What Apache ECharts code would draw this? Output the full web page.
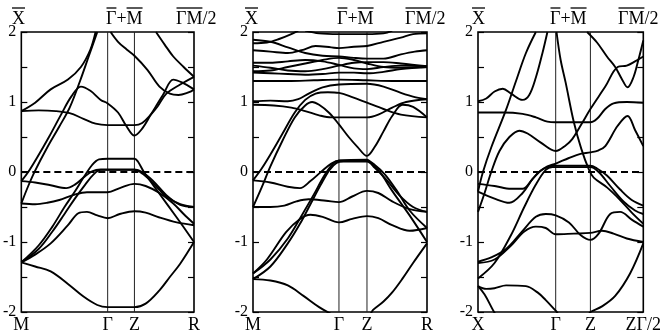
<!DOCTYPE html>
<html>
<head>
<meta charset="utf-8">
<script src="https://cdn.jsdelivr.net/npm/echarts@6/dist/echarts.min.js"></script>
<style>
  html, body { margin: 0; padding: 0; background: #fff; }
  #chart { width: 664px; height: 334px; }
</style>
</head>
<body>
<div id="chart"></div>
<script>
// high-symmetry points (fraction of path) and their names
const kp1 = [0, 0.5, 0.655, 1];
const kp2 = [0, 0.494, 0.655, 1];
const kp3 = [0, 0.47, 0.68, 1];
const kLab1 = ['M', 'Γ', 'Z', 'R'];
const kLab2 = ['M', 'Γ', 'Z', 'R'];
const kLab3 = ['X', 'Γ', 'Z', 'ZΓ/2'];

// panel 1 bands  [k, E(eV)]
const p1Bands = [
  [[0,-1.29],[0.08,-1.35],[0.17,-1.42],[0.27,-1.6],[0.36,-1.78],[0.44,-1.9],[0.5,-1.93],[0.655,-1.93],[0.72,-1.88],[0.8,-1.69],[0.86,-1.5],[0.92,-1.31],[1,-1.0]],
  [[0,-1.29],[0.08,-1.18],[0.17,-1.02],[0.27,-0.76],[0.33,-0.59],[0.38,-0.57],[0.44,-0.62],[0.5,-0.66],[0.57,-0.6],[0.655,-0.56],[0.72,-0.58],[0.8,-0.65],[0.9,-0.72],[1,-0.76]],
  [[0,-1.29],[0.1,-1.1],[0.18,-0.85],[0.25,-0.6],[0.31,-0.38],[0.37,-0.18],[0.42,-0.03],[0.46,0.03],[0.5,0.03],[0.655,0.03],[0.7,-0.02],[0.76,-0.15],[0.84,-0.35],[0.92,-0.46],[1,-0.5]],
  [[0,-1.29],[0.1,-1.05],[0.18,-0.78],[0.25,-0.5],[0.31,-0.28],[0.36,-0.08],[0.41,0.1],[0.45,0.18],[0.5,0.19],[0.655,0.19],[0.675,0.15],[0.71,0.0],[0.8,-0.31],[0.9,-0.65],[1,-1.0]],
  [[0,-0.45],[0.08,-0.46],[0.15,-0.44],[0.22,-0.4],[0.3,-0.33],[0.38,-0.29],[0.5,-0.29],[0.57,-0.23],[0.655,-0.17],[0.72,-0.2],[0.8,-0.3],[0.88,-0.45],[0.94,-0.6],[1,-0.74]],
  [[0,-0.13],[0.08,-0.15],[0.17,-0.19],[0.26,-0.23],[0.31,-0.18],[0.36,-0.08],[0.41,0.01],[0.46,0.035],[0.5,0.035],[0.655,0.035],[0.7,0.0],[0.76,-0.12],[0.84,-0.33],[0.92,-0.47],[1,-0.5]],
  [[0,-0.45],[0.04,-0.2],[0.08,0.02],[0.15,0.35],[0.22,0.65],[0.28,0.92],[0.34,1.3],[0.39,1.65],[0.44,2.0]],
  [[0,-0.13],[0.04,0.0],[0.09,0.2],[0.16,0.5],[0.23,0.82],[0.29,1.08],[0.345,1.22],[0.4,1.16],[0.46,1.03],[0.5,0.98],[0.56,0.85],[0.61,0.65],[0.655,0.52],[0.7,0.62],[0.75,0.82],[0.82,1.1],[0.88,1.32],[0.93,1.28],[1,1.18]],
  [[0,0.87],[0.1,0.88],[0.2,0.87],[0.28,0.84],[0.36,0.76],[0.43,0.69],[0.5,0.67],[0.655,0.67],[0.7,0.7],[0.75,0.82],[0.79,0.94],[0.84,1.12],[0.92,1.25],[1,1.36]],
  [[0,0.87],[0.08,0.99],[0.17,1.18],[0.27,1.32],[0.345,1.5],[0.4,1.75],[0.43,2.0]],
  [[0.517,2.0],[0.56,1.86],[0.61,1.75],[0.655,1.66],[0.73,1.46],[0.8,1.22],[0.86,1.12],[0.91,1.1],[0.96,1.13],[1,1.18]],
  [[0.78,2.0],[0.83,1.82],[0.88,1.65],[0.94,1.5],[1,1.36]]
];

// panel 2 bands
const p2Bands = [
  [[0,-1.53],[0.1,-1.55],[0.2,-1.62],[0.29,-1.77],[0.38,-1.93],[0.45,-2.03],[0.494,-2.08],[0.655,-2.08],[0.69,-1.97],[0.75,-1.85],[0.8,-1.72],[0.86,-1.52],[0.92,-1.3],[1,-1.02]],
  [[0,-1.45],[0.08,-1.25],[0.19,-0.86],[0.27,-0.67],[0.33,-0.61],[0.4,-0.64],[0.494,-0.72],[0.57,-0.67],[0.655,-0.63],[0.72,-0.66],[0.8,-0.76],[0.9,-0.84],[1,-0.8]],
  [[0,-1.45],[0.1,-1.25],[0.2,-0.95],[0.28,-0.62],[0.35,-0.32],[0.41,-0.05],[0.46,0.12],[0.494,0.165],[0.655,0.175],[0.69,0.1],[0.73,0.0],[0.8,-0.27],[0.9,-0.62],[1,-1.0]],
  [[0,-1.53],[0.1,-1.35],[0.2,-1.02],[0.27,-0.74],[0.33,-0.46],[0.39,-0.18],[0.44,0.03],[0.48,0.13],[0.52,0.15],[0.655,0.15],[0.7,0.06],[0.77,-0.12],[0.84,-0.33],[0.92,-0.5],[1,-0.57]],
  [[0,-0.5],[0.1,-0.5],[0.18,-0.48],[0.25,-0.42],[0.32,-0.39],[0.42,-0.41],[0.494,-0.43],[0.57,-0.35],[0.655,-0.27],[0.72,-0.3],[0.8,-0.42],[0.9,-0.53],[1,-0.57]],
  [[0,-0.12],[0.1,-0.15],[0.2,-0.21],[0.27,-0.23],[0.33,-0.13],[0.39,0.0],[0.45,0.12],[0.494,0.16],[0.655,0.16],[0.7,0.1],[0.76,-0.04],[0.83,-0.28],[0.9,-0.55],[1,-0.8]],
  [[0,-0.5],[0.05,-0.22],[0.1,0.08],[0.17,0.45],[0.24,0.78],[0.3,0.95],[0.34,1.0],[0.38,0.96],[0.44,0.84],[0.494,0.68],[0.55,0.5],[0.6,0.36],[0.655,0.23],[0.7,0.36],[0.75,0.58],[0.8,0.8],[0.86,0.96],[0.92,0.93],[1,0.78]],
  [[0,-0.12],[0.05,0.05],[0.1,0.25],[0.17,0.55],[0.24,0.85],[0.3,1.03],[0.36,1.12],[0.43,1.14],[0.494,1.13],[0.57,1.07],[0.655,0.99],[0.75,0.9],[0.85,0.82],[1,0.78]],
  [[0,1.01],[0.1,1.02],[0.2,1.01],[0.26,1.04],[0.32,1.12],[0.4,1.21],[0.494,1.25],[0.655,1.26],[0.75,1.22],[0.85,1.13],[0.93,1.07],[1,1.04]],
  [[0,0.96],[0.12,0.95],[0.22,0.92],[0.3,0.87],[0.38,0.81],[0.45,0.78],[0.494,0.78],[0.655,0.78],[0.72,0.82],[0.8,0.92],[0.88,1.0],[1,1.04]],
  [[0,1.3],[0.2,1.3],[0.35,1.31],[0.494,1.32],[0.655,1.31],[0.8,1.3],[1,1.3]],
  [[0,1.42],[0.1,1.41],[0.2,1.4],[0.3,1.39],[0.4,1.4],[0.494,1.42],[0.58,1.42],[0.655,1.41],[0.75,1.43],[0.85,1.47],[1,1.5]],
  [[0,1.44],[0.1,1.45],[0.2,1.5],[0.3,1.55],[0.4,1.6],[0.494,1.63],[0.58,1.6],[0.655,1.55],[0.75,1.5],[0.85,1.49],[1,1.5]],
  [[0,1.52],[0.1,1.49],[0.2,1.45],[0.3,1.44],[0.4,1.47],[0.494,1.52],[0.58,1.56],[0.655,1.57],[0.75,1.57],[0.85,1.55],[1,1.51]],
  [[0,1.56],[0.1,1.56],[0.2,1.58],[0.3,1.6],[0.4,1.58],[0.494,1.53],[0.58,1.48],[0.655,1.47],[0.75,1.5],[0.85,1.52],[1,1.51]],
  [[0,1.74],[0.1,1.72],[0.2,1.7],[0.28,1.74],[0.36,1.8],[0.45,1.78],[0.494,1.77],[0.58,1.79],[0.655,1.8],[0.75,1.86],[0.85,1.92],[0.92,1.97],[1,1.98]],
  [[0,1.89],[0.1,1.86],[0.2,1.78],[0.3,1.7],[0.4,1.66],[0.494,1.65],[0.58,1.63],[0.655,1.62],[0.75,1.62],[0.85,1.68],[0.93,1.72],[1,1.74]],
  [[0,1.84],[0.08,1.85],[0.15,1.9],[0.22,1.97],[0.26,2.02]],
  [[0.3,2.02],[0.38,1.98],[0.494,1.97],[0.655,1.97],[0.75,1.98],[0.8,2.02]]
];

// panel 3 bands
const p3Bands = [
  [[0,1.01],[0.05,1.05],[0.1,1.15],[0.15,1.19],[0.2,1.12],[0.27,1.03],[0.31,1.1],[0.35,1.35],[0.39,1.7],[0.42,2.0]],
  [[0,0.85],[0.15,0.85],[0.27,0.83],[0.35,0.78],[0.42,0.72],[0.47,0.71],[0.68,0.71],[0.72,0.76],[0.77,0.9],[0.82,0.98],[0.9,1.0],[1,0.99]],
  [[0,-0.57],[0.04,-0.3],[0.08,0.0],[0.13,0.3],[0.19,0.5],[0.25,0.59],[0.3,0.55],[0.38,0.42],[0.47,0.3],[0.53,0.38],[0.57,0.47],[0.63,0.7],[0.68,0.9],[0.77,1.22],[0.845,1.5],[0.9,1.52],[0.95,1.58],[1,1.65]],
  [[0.66,2.0],[0.72,1.85],[0.78,1.65],[0.83,1.5],[0.87,1.33],[0.905,1.21],[0.94,1.35],[0.97,1.6],[1,1.88]],
  [[0,-0.28],[0.1,-0.38],[0.19,-0.44],[0.27,-0.3],[0.33,-0.1],[0.37,0.0],[0.42,0.08],[0.47,0.12],[0.55,0.2],[0.62,0.26],[0.68,0.28],[0.73,0.31],[0.77,0.37],[0.845,0.66],[0.905,0.8],[0.95,0.6],[1,0.37]],
  [[0.475,2.0],[0.5,1.6],[0.53,1.28],[0.58,0.71],[0.625,0.33],[0.67,0.04],[0.7,-0.08],[0.78,-0.22],[0.86,-0.4],[0.93,-0.58],[1,-0.74]],
  [[0,-0.28],[0.03,0.0],[0.08,0.35],[0.17,0.89],[0.23,1.3],[0.29,1.7],[0.35,2.0]],
  [[0,-0.17],[0.1,-0.2],[0.2,-0.24],[0.27,-0.24],[0.33,-0.1],[0.38,0.02],[0.43,0.08],[0.47,0.09],[0.68,0.09],[0.72,0.05],[0.78,-0.05],[0.86,-0.25],[0.93,-0.4],[1,-0.48]],
  [[0,-1.52],[0.1,-1.3],[0.2,-0.9],[0.28,-0.5],[0.35,-0.18],[0.41,0.03],[0.45,0.07],[0.47,0.07],[0.68,0.07],[0.73,0.0],[0.8,-0.2],[0.88,-0.42],[0.95,-0.55],[1,-0.6]],
  [[0,-1.28],[0.08,-1.22],[0.17,-1.1],[0.27,-0.84],[0.35,-0.64],[0.41,-0.6],[0.47,-0.62],[0.55,-0.72],[0.62,-0.9],[0.68,-0.97],[0.73,-0.88],[0.8,-0.6],[0.86,-0.57],[0.93,-0.68],[1,-0.78]],
  [[0,-1.3],[0.1,-1.25],[0.2,-1.05],[0.28,-0.85],[0.35,-0.78],[0.41,-0.8],[0.47,-0.89],[0.58,-0.88],[0.68,-0.87],[0.75,-0.84],[0.82,-0.88],[0.9,-0.95],[1,-1.0]],
  [[0,-1.63],[0.05,-1.67],[0.1,-1.66],[0.17,-1.62],[0.29,-1.63],[0.36,-1.72],[0.41,-1.83],[0.47,-1.98],[0.5,-2.05],[0.66,-2.05],[0.68,-2.0],[0.75,-1.92],[0.83,-1.77],[0.92,-1.45],[1,-1.02]],
  [[0,-1.63],[0.04,-1.75],[0.09,-1.97],[0.11,-2.05]]
];

const FONT = '"Liberation Serif", "Times New Roman", serif';
const panels = [
  { left: 20, width: 174, k: kp1, names: kLab1, bands: p1Bands, top: ['X', 'Γ+M', 'ΓM/2'], topX: [12, 106, 176] },
  { left: 253, width: 174, k: kp2, names: kLab2, bands: p2Bands, top: ['X', 'Γ+M', 'ΓM/2'], topX: [245, 337, 405] },
  { left: 478, width: 168, k: kp3, names: kLab3, bands: p3Bands, top: ['X', 'Γ+M', 'ΓM/2'], topX: [472, 550, 618] }
];

const grid = [], xAxis = [], yAxis = [], series = [], graphic = [];

const ctx = document.createElement('canvas').getContext('2d');
ctx.font = '18px ' + FONT;
const tw = s => ctx.measureText(s).width;

panels.forEach((p, i) => {
  grid.push({ left: p.left, top: 32, width: p.width, height: 282, show: true,
    borderColor: '#000', borderWidth: 1.6, backgroundColor: 'transparent' });
  xAxis.push({
    type: 'value', gridIndex: i, min: 0, max: 1,
    axisLine: { show: false }, axisTick: { show: false }, splitLine: { show: false },
    axisLabel: {
      customValues: p.k, showMinLabel: true, showMaxLabel: true,
      formatter: v => {
        let j = 0;
        p.k.forEach((kv, n) => { if (Math.abs(kv - v) < Math.abs(p.k[j] - v)) j = n; });
        return p.names[j];
      },
      color: '#000', fontFamily: FONT, fontSize: 18, margin: 4
    }
  });
  const yBase = {
    type: 'value', gridIndex: i, min: -2, max: 2, interval: 0.5,
    axisLine: { show: false }, splitLine: { show: false },
    axisTick: { inside: true, length: 6, lineStyle: { color: '#000', width: 1.2 } }
  };
  yAxis.push(Object.assign({}, yBase, {
    position: 'left',
    axisLabel: {
      formatter: v => (Number.isInteger(v) ? String(v) : ''),
      color: '#000', fontFamily: FONT, fontSize: 16, margin: 5
    }
  }));
  yAxis.push(Object.assign({}, yBase, { position: 'right', axisLabel: { show: false } }));

  // Gamma / Z verticals
  p.k.slice(1, -1).forEach(kv => {
    series.push({ type: 'line', xAxisIndex: i, yAxisIndex: 2 * i, data: [[kv, -2], [kv, 2]],
      symbol: 'none', silent: true, lineStyle: { color: '#222', width: 1 }, z: 1 });
  });
  // Fermi level
  series.push({ type: 'line', xAxisIndex: i, yAxisIndex: 2 * i, data: [[0, 0], [1, 0]],
    symbol: 'none', silent: true, lineStyle: { color: '#000', width: 1.8, type: [7, 4] }, z: 2 });

  p.bands.forEach(b => {
    series.push({ type: 'line', xAxisIndex: i, yAxisIndex: 2 * i, data: b, smooth: 0.35,
      symbol: 'none', silent: true, clip: true, lineStyle: { color: '#000', width: 1.9 }, z: 3 });
  });

  // top labels with overbars
  const ty = 10, oy = 8;
  const addText = (s, x) => graphic.push({ type: 'text', x: x, y: ty,
    style: { text: s, font: '18px ' + FONT, fill: '#000', verticalAlign: 'top' } });
  const addBar = (x1, x2) => graphic.push({ type: 'line', shape: { x1: x1, y1: oy, x2: x2, y2: oy },
    style: { stroke: '#000', lineWidth: 1.3 } });
  let x = p.topX[0];
  addText(p.top[0], x); addBar(x, x + tw('X'));
  x = p.topX[1];
  addText(p.top[1], x);
  addBar(x + 0.5, x + tw('Γ')); addBar(x + tw('Γ+'), x + tw('Γ+M'));
  x = p.topX[2];
  addText(p.top[2], x); addBar(x + 0.5, x + tw('ΓM'));
});

const chart = echarts.init(document.getElementById('chart'), null, { renderer: 'canvas' });
chart.setOption({ animation: false, grid, xAxis, yAxis, series, graphic });
</script>
</body>
</html>
